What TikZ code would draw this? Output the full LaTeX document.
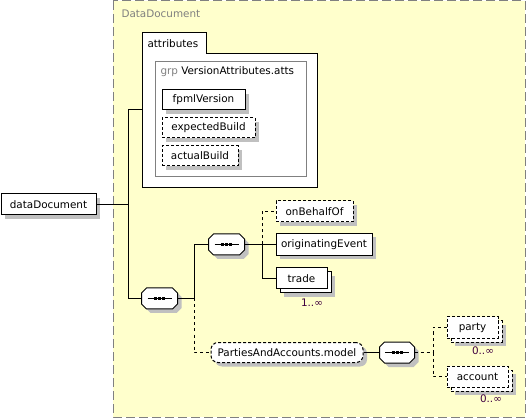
\documentclass[tikz,border=0pt]{standalone}
\usepackage{fontspec}
\setmainfont{DejaVu Sans}
\usetikzlibrary{shadows}
\definecolor{bgyellow}{RGB}{255,255,204}
\definecolor{framegray}{RGB}{128,128,128}
\definecolor{multcol}{RGB}{64,0,64}
\definecolor{shadowgray}{RGB}{192,192,192}
\begin{document}
\begin{tikzpicture}[x=1pt,y=-1pt,line width=1pt,font=\fontsize{10.4}{12}\selectfont,
  shad/.style={drop shadow={shadow xshift=4pt,shadow yshift=-4pt,fill=shadowgray,opacity=1,draw=none}},
  elem/.style={draw=black,fill=white,rectangle,minimum height=21pt,inner sep=0pt,shad},
  optelem/.style={elem,dash pattern=on 3pt off 2pt},
  multelem/.style={draw=black,fill=white,rectangle,minimum height=21pt,inner sep=0pt,
    drop shadow={shadow xshift=8pt,shadow yshift=-8pt,fill=shadowgray,opacity=1,draw=none},
    copy shadow={shadow xshift=4pt,shadow yshift=-4pt,fill=white,draw=black}},
  optmultelem/.style={draw=black,fill=white,rectangle,minimum height=21pt,inner sep=0pt,dash pattern=on 3pt off 2pt,
    drop shadow={shadow xshift=8pt,shadow yshift=-8pt,fill=shadowgray,opacity=1,draw=none},
    copy shadow={shadow xshift=4pt,shadow yshift=-4pt,fill=white,draw=black,dash pattern=on 3pt off 2pt}},
  seqnode/.style={rectangle,draw=none,minimum width=35pt,minimum height=20pt,inner sep=0pt},
  octo/.style={draw=black,fill=white,line width=1pt,shad},
  modelnode/.style={draw=black,fill=white,rounded corners=7pt,minimum height=20pt,inner sep=0pt,dash pattern=on 3pt off 2pt,shad},
  conn/.style={draw=black,line width=1pt},
  optconn/.style={conn,dash pattern=on 3pt off 3pt},
  multlabel/.style={text=multcol,inner sep=0pt}
]
\useasboundingbox (0,0) rectangle (527,419);

% outer complex type frame
\draw[fill=bgyellow,draw=framegray,dash pattern=on 9pt off 4pt] (113,1) rectangle (525,417);
\node[anchor=west,text=framegray,inner sep=0pt] (dtitle) at (121,13.5) {DataDocument};

% attributes box
\draw[fill=white,draw=black] (142,188) -- (142,33) -- (206,33) -- (206,54) -- (317,54) -- (317,188) -- cycle;
\node[anchor=west,inner sep=0pt] (attrlabel) at (147,43.5) {attributes};
\draw[fill=white,draw=framegray] (155,62) rectangle (306,177);
\node[anchor=west,inner sep=0pt] (grplabel) at (160,72) {\textcolor{framegray}{grp} VersionAttributes.atts};
\node[elem,minimum width=83pt,minimum height=20pt] (fpml) at (203.5,100) {fpmlVersion};
\node[optelem,minimum width=93pt,minimum height=20pt] (expb) at (208.5,128) {expectedBuild};
\node[optelem,minimum width=76pt,minimum height=20pt] (actb) at (200,156) {actualBuild};

% root element
\node[elem,minimum width=95pt] (dd) at (48.5,204.5) {dataDocument};

% sequences (octagon outline drawn over invisible node)
\node[seqnode] (seq1) at (159.5,298.5) {};
\node[seqnode] (seq2) at (226.5,244.5) {};
\node[seqnode,minimum width=34pt] (seq3) at (397,352.5) {};
\foreach \s in {seq1,seq2,seq3}{
  \path[octo] ([xshift=5pt]\s.north west) -- ([xshift=-5pt]\s.north east) -- ([yshift=-5pt]\s.north east)
    -- ([yshift=5pt]\s.south east) -- ([xshift=-5pt]\s.south east) -- ([xshift=5pt]\s.south west)
    -- ([yshift=5pt]\s.south west) -- ([yshift=-5pt]\s.north west) -- cycle;
  \draw[line width=1pt] ([xshift=-12pt]\s.center) -- ([xshift=12pt]\s.center);
  \foreach \d in {-4pt,0pt,4pt}
    \fill[black] ([xshift=\d-1.5pt,yshift=-1.5pt]\s.center) rectangle ([xshift=\d+1.5pt,yshift=1.5pt]\s.center);
}

% children
\node[optelem,minimum width=77pt] (obo) at (314.5,211.5) {onBehalfOf};
\node[elem,minimum width=96pt,minimum height=22pt] (oe) at (324,244.5) {originatingEvent};
\node[multelem,minimum width=51pt] (trade) at (301.5,278.5) {trade};
\node[multlabel] (tradem) at (312,303) {1..∞};
\node[modelnode,minimum width=152pt] (pam) at (287,352.5) {PartiesAndAccounts.model};
\node[optmultelem,minimum width=51pt] (party) at (472.5,327.5) {party};
\node[multlabel] (partym) at (483,351) {0..∞};
\node[optmultelem,minimum width=61pt] (account) at (477.5,376.5) {account};
\node[multlabel] (accountm) at (491,399) {0..∞};

% junction coordinates
\coordinate (jA) at (128,110);
\coordinate (jAin) at (142,110);
\coordinate (jB) at (128,298.5);
\coordinate (jC) at (194,298.5);
\coordinate (jD) at (262,244.5);
\coordinate (jE) at (433,352.5);

% connectors
\draw[conn] (dd.east) -- (dd.east -| jA);
\draw[conn] (jAin) -- (jA) -- (jB) -- (seq1.west);
\draw[conn] (seq1.east) -- (jC) |- (seq2.west);
\draw[optconn] (jC) |- (pam.west);
\draw[conn] (seq2.east) -- (jD) -- (oe.west);
\draw[optconn] (jD) |- (obo.west);
\draw[conn] (jD) |- (trade.west);
\draw[conn] (pam.east) -- (seq3.west);
\draw[optconn] (seq3.east) -- (jE);
\draw[optconn] (jE) |- (party.west);
\draw[optconn] (jE) |- (account.west);
\end{tikzpicture}
\end{document}
